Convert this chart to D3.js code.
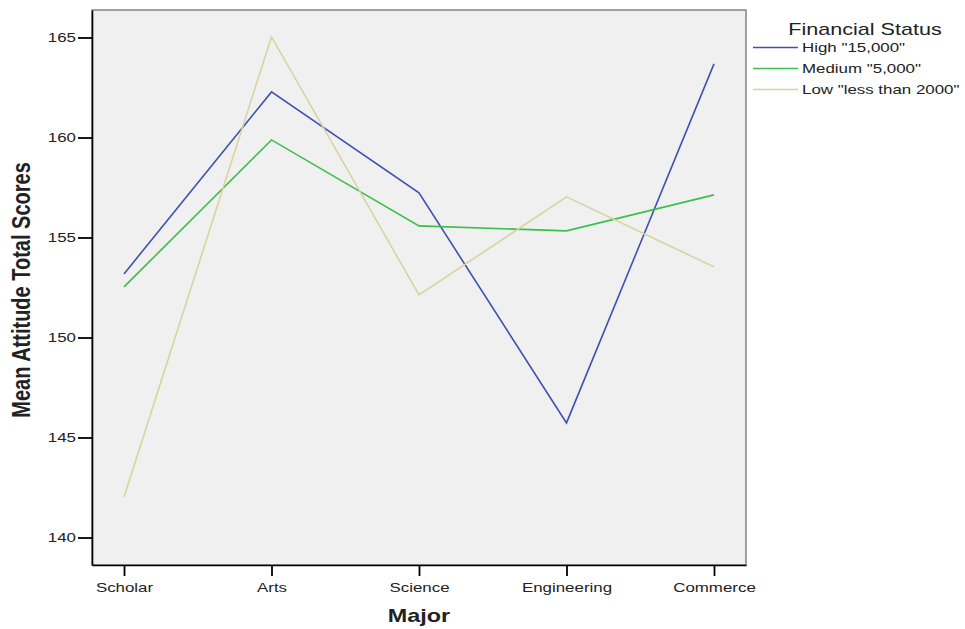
<!DOCTYPE html>
<html><head><meta charset="utf-8">
<script src="https://cdn.jsdelivr.net/npm/d3@7"></script>
<style>body{margin:0;background:#fff;} text{font-family:"Liberation Sans",Arial,sans-serif;}</style>
</head><body>
<svg id="c" width="965" height="629"></svg>
<script>
const categories = ["Scholar","Arts","Science","Engineering","Commerce"];
const seriesNames = ['High "15,000"','Medium "5,000"','Low "less than 2000"'];
const highValues = [153.18,162.28,157.23,145.73,163.68];
const mediumValues = [152.53,159.88,155.58,155.33,157.13];
const lowValues = [142.03,165.03,152.13,157.03,153.53];
const yTicks = [140,145,150,155,160,165];
const colors = ["#3f51b1","#3cbf4b","#d8d39e"];

const SX = 1.3; // horizontal text stretch seen in the reference
const series = [highValues, mediumValues, lowValues];
const svg = d3.select("#c");
const L=92,R=746,T=10,B=565;
const x = d3.scalePoint().domain(categories).range([L,R]).padding(0.217);
const y = d3.scaleLinear().domain([138.625,166.375]).range([B,T]);

svg.append("rect").attr("x",L).attr("y",T).attr("width",R-L).attr("height",B-T)
  .attr("fill","#f0f0f0").attr("stroke","#666").attr("stroke-width",1.2);

const line = d3.line().x((d,i)=>x(categories[i])).y(d=>y(d));
series.forEach((s,k)=>{
  svg.append("path").datum(s).attr("d",line).attr("fill","none")
    .attr("stroke",colors[k]).attr("stroke-width",1.6);
});

const ya = svg.append("g").attr("transform",`translate(${L},0)`)
  .call(d3.axisLeft(y).tickValues(yTicks).tickSize(14).tickSizeOuter(0).tickPadding(2));
ya.select(".domain").attr("stroke","#000").attr("stroke-width",1.6);
ya.selectAll(".tick line").attr("stroke","#000").attr("stroke-width",1.8);
ya.selectAll("text").attr("font-size","13px").attr("fill","#222")
  .attr("x",-16/SX).attr("transform",`scale(${SX},1)`);

const xa = svg.append("g").attr("transform",`translate(0,${B})`)
  .call(d3.axisBottom(x).tickSize(11).tickSizeOuter(0).tickPadding(7));
xa.select(".domain").attr("stroke","#000").attr("stroke-width",1.6);
xa.selectAll(".tick line").attr("stroke","#000").attr("stroke-width",1.8);
xa.selectAll("text").attr("font-size","13px").attr("fill","#222").attr("transform",`scale(${SX},1)`);

svg.append("text").attr("transform",`translate(419,622) scale(${SX},1)`).attr("text-anchor","middle")
  .attr("font-size","18px").attr("font-weight","bold").attr("fill","#222").text("Major");
svg.append("text").attr("transform",`translate(30,290) scale(${SX},1) rotate(-90)`).attr("text-anchor","middle")
  .attr("font-size","20px").attr("font-weight","bold").attr("fill","#222").text("Mean Attitude Total Scores");

const lg = svg.append("g");
lg.append("text").attr("transform",`translate(865,35) scale(1.27,1)`).attr("text-anchor","middle")
  .attr("font-size","17px").attr("fill","#222").text("Financial Status");
seriesNames.forEach((n,k)=>{
  const yy = 47.5 + k*21;
  lg.append("line").attr("x1",753).attr("x2",798).attr("y1",yy).attr("y2",yy)
    .attr("stroke",colors[k]).attr("stroke-width",1.6);
  lg.append("text").attr("transform",`translate(802,${yy+4.7}) scale(${SX},1)`)
    .attr("font-size","13px").attr("fill","#222").text(n);
});
</script>
</body></html>
